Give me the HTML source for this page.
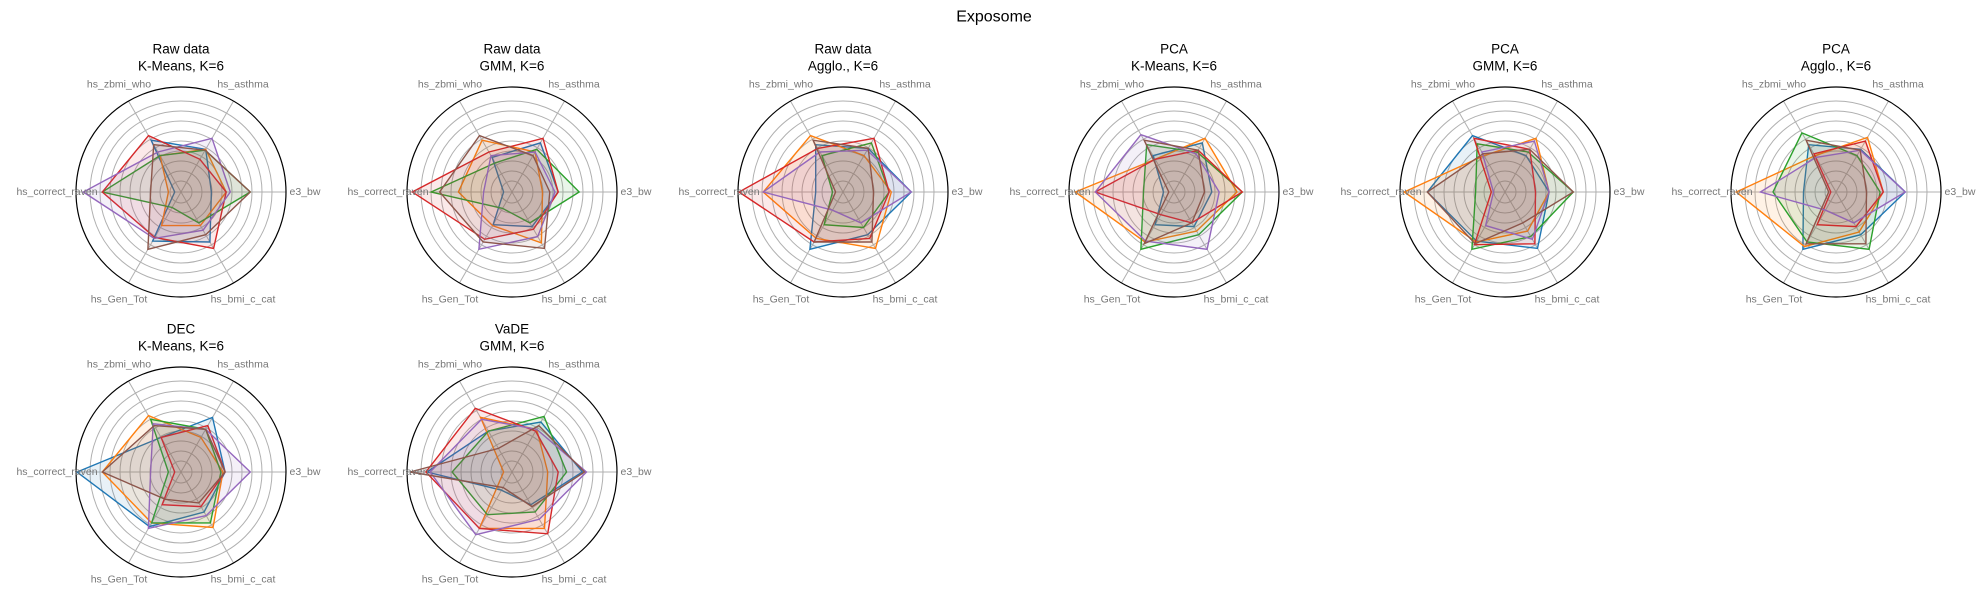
<!DOCTYPE html>
<html><head><meta charset="utf-8"><style>
body{margin:0;background:#fff}
svg{display:block;font-family:"Liberation Sans",sans-serif}
</style></head><body>
<svg id="fig" width="1988" height="592" viewBox="0 0 1988 592">
<text x="994" y="17" text-anchor="middle" dominant-baseline="central" font-size="16" fill="#000">Exposome</text>
</svg>
<script>
const axesLabels = ["e3_bw","hs_asthma","hs_zbmi_who","hs_correct_raven","hs_Gen_Tot","hs_bmi_c_cat"];
const seriesColors = ["#1f77b4","#ff7f0e","#2ca02c","#d62728","#9467bd","#8c564b"];
const titles1 = ["Raw data","Raw data","Raw data","PCA","PCA","PCA","DEC","VaDE"];
const titles2 = ["K-Means, K=6","GMM, K=6","Agglo., K=6","K-Means, K=6","GMM, K=6","Agglo., K=6","K-Means, K=6","GMM, K=6"];
// values per chart: 6 clusters x 6 axes (e3_bw, asthma, zbmi, raven, Gen_Tot, bmi_c_cat)
const chart1 = [[0.29,0.47,0.57,0.06,0.54,0.55],[0.43,0.47,0.40,0.12,0.37,0.37],[0.66,0.46,0.40,0.75,0.17,0.34],[0.43,0.36,0.62,0.75,0.50,0.62],[0.47,0.59,0.44,0.93,0.51,0.42],[0.66,0.46,0.52,0.29,0.63,0.47]];
const chart2 = [[0.44,0.54,0.38,0.08,0.36,0.38],[0.29,0.44,0.57,0.51,0.37,0.56],[0.64,0.47,0.32,0.77,0.18,0.34],[0.44,0.59,0.44,0.95,0.52,0.41],[0.41,0.44,0.40,0.27,0.63,0.49],[0.36,0.40,0.62,0.69,0.55,0.62]];
const chart3 = [[0.65,0.48,0.52,0.26,0.63,0.47],[0.46,0.40,0.62,0.76,0.51,0.62],[0.44,0.54,0.40,0.10,0.36,0.39],[0.44,0.59,0.48,0.99,0.55,0.51],[0.65,0.46,0.44,0.76,0.20,0.34],[0.29,0.48,0.57,0.07,0.55,0.55]];
const chart4 = [[0.36,0.54,0.40,0.10,0.36,0.38],[0.60,0.59,0.36,0.94,0.55,0.43],[0.65,0.44,0.52,0.29,0.63,0.47],[0.65,0.46,0.36,0.75,0.25,0.34],[0.43,0.42,0.63,0.75,0.54,0.63],[0.29,0.46,0.57,0.05,0.57,0.34]];
const chart5 = [[0.42,0.40,0.62,0.74,0.54,0.62],[0.42,0.59,0.40,0.96,0.55,0.43],[0.65,0.44,0.53,0.28,0.63,0.49],[0.29,0.47,0.59,0.13,0.58,0.57],[0.42,0.56,0.44,0.11,0.37,0.52],[0.65,0.47,0.42,0.74,0.57,0.34]];
const chart6 = [[0.66,0.47,0.52,0.31,0.63,0.47],[0.45,0.60,0.40,0.95,0.60,0.44],[0.42,0.40,0.65,0.60,0.55,0.63],[0.45,0.56,0.42,0.05,0.36,0.38],[0.66,0.46,0.38,0.72,0.20,0.34],[0.29,0.46,0.57,0.07,0.57,0.57]];
const chart7 = [[0.42,0.60,0.38,0.99,0.60,0.44],[0.40,0.38,0.62,0.75,0.56,0.61],[0.38,0.47,0.58,0.12,0.56,0.56],[0.42,0.51,0.38,0.06,0.36,0.38],[0.66,0.47,0.53,0.29,0.62,0.48],[0.42,0.47,0.51,0.75,0.30,0.34]];
const chart8 = [[0.67,0.55,0.45,0.81,0.20,0.36],[0.34,0.47,0.60,0.08,0.62,0.62],[0.52,0.61,0.45,0.57,0.47,0.44],[0.44,0.45,0.70,0.82,0.62,0.68],[0.71,0.47,0.58,0.78,0.69,0.52],[0.69,0.51,0.26,0.97,0.17,0.38]];
const charts = [chart1,chart2,chart3,chart4,chart5,chart6,chart7,chart8];

const NS="http://www.w3.org/2000/svg";
const svg=document.getElementById("fig");
const R=105, LR=124;
const cxs=[181,512,843,1174,1505,1836,181,512];
const cys=[192,192,192,192,192,192,472,472];
function mk(tag,attrs,parent){const e=document.createElementNS(NS,tag);for(const k in attrs)e.setAttribute(k,attrs[k]);(parent||svg).appendChild(e);return e;}
function ang(i){return i*Math.PI/3;}
function px(cx,r,i){return cx+r*R*Math.cos(ang(i));}
function py(cy,r,i){return cy-r*R*Math.sin(ang(i));}

charts.forEach((data,ci)=>{
  const cx=cxs[ci], cy=cys[ci];
  const g=mk("g",{});
  
  
  for(let k=0;k<9;k++){
    const c=mk("circle",{cx:cx,cy:cy,r:11+10*k,fill:"none",stroke:"#b0b0b0","stroke-width":1},g);
    
    
  }
  axesLabels.forEach((lab,i)=>{
    const l=mk("line",{x1:cx,y1:cy,x2:px(cx,1,i),y2:py(cy,1,i),stroke:"#b0b0b0","stroke-width":1},g);
    
    
  });
  const oc=mk("circle",{cx:cx,cy:cy,r:R,fill:"none",stroke:"#000","stroke-width":1.2},g);
  
  
  data.forEach((vals,si)=>{
    const pts=vals.map((v,i)=>px(cx,v,i).toFixed(1)+","+py(cy,v,i).toFixed(1)).join(" ");
    const p=mk("polygon",{points:pts,fill:seriesColors[si],"fill-opacity":0.1,stroke:seriesColors[si],"stroke-width":1.4,"stroke-linejoin":"miter"},g);
    
    
  });
  axesLabels.forEach((lab,i)=>{
    const t=mk("text",{x:cx+LR*Math.cos(ang(i)),y:cy-LR*Math.sin(ang(i)),"text-anchor":"middle","dominant-baseline":"central","font-size":10.5,fill:"#777"},g);
    t.textContent=lab;
    
    
  });
  const t1=mk("text",{x:cx,y:cy-143,"text-anchor":"middle","dominant-baseline":"central","font-size":13.5,fill:"#000"},g);
  t1.textContent=titles1[ci];
  
  
  const t2=mk("text",{x:cx,y:cy-126,"text-anchor":"middle","dominant-baseline":"central","font-size":13.5,fill:"#000"},g);
  t2.textContent=titles2[ci];
  
  
});
</script>
</body></html>
